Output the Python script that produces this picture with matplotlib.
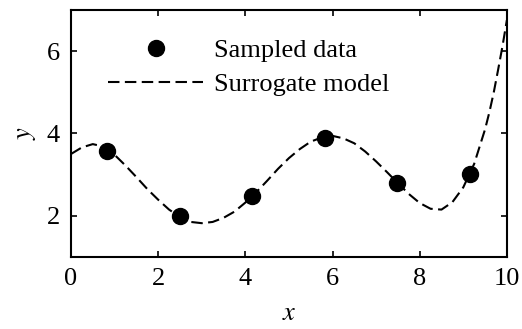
import numpy as np
import matplotlib
matplotlib.use('Agg')
import matplotlib.pyplot as plt

plt.rcParams['font.family'] = ['Liberation Serif', 'DejaVu Serif']
plt.rcParams['mathtext.fontset'] = 'stix'

# 采样点
x_sample = [0.82, 2.50, 4.16, 5.83, 7.49, 9.15]
y_sample = [3.58, 1.99, 2.49, 3.89, 2.80, 3.01]

# 代理模型曲线
x_model = [0.0, 0.25, 0.5, 0.75, 1.0, 1.25, 1.5, 1.75, 2.0, 2.25, 2.5,
           2.75, 3.0, 3.25, 3.5, 3.75, 4.0, 4.25, 4.5, 4.75, 5.0,
           5.25, 5.5, 5.75, 6.0, 6.25, 6.5, 6.75, 7.0, 7.25, 7.5,
           7.75, 8.0, 8.25, 8.5, 8.75, 9.0, 9.25, 9.5, 9.6, 9.7,
           9.8, 9.9, 10.0]
y_model = [3.50, 3.66, 3.74, 3.68, 3.48, 3.22, 2.94, 2.65, 2.39, 2.15, 1.97,
           1.85, 1.82, 1.85, 1.95, 2.10, 2.32, 2.57, 2.85, 3.14, 3.40,
           3.62, 3.80, 3.90, 3.94, 3.88, 3.76, 3.56, 3.32, 3.06, 2.79,
           2.53, 2.31, 2.17, 2.15, 2.33, 2.69, 3.26, 4.10, 4.52, 5.00,
           5.55, 6.12, 6.75]

fig = plt.figure(figsize=(5.22, 3.29), dpi=100)
ax = fig.add_axes([0.136, 0.219, 0.835, 0.751])

ax.plot(x_sample, y_sample, 'o', color='black', markersize=11.5,
        label='Sampled data', zorder=3)
ax.plot(x_model, y_model, color='black', lw=1.5, linestyle=(0, (5.5, 2.6)),
        label='Surrogate model', zorder=2)

ax.set_xlim(0, 10)
ax.set_ylim(1, 7)
ax.set_xticks([0, 2, 4, 6, 8, 10])
ax.set_yticks([2, 4, 6])
ax.tick_params(direction='in', top=True, right=True, length=4, width=1.2,
               labelsize=19, pad=8)
for s in ax.spines.values():
    s.set_linewidth(1.5)

ax.set_xlabel('$x$', fontsize=19, labelpad=9)
ax.set_ylabel('$y$', fontsize=19, labelpad=6)

ax.legend(loc='upper left', bbox_to_anchor=(0.085, 0.885), frameon=False,
          fontsize=19, handlelength=3.6, handletextpad=0.4, labelspacing=0.4,
          borderpad=0, borderaxespad=0, numpoints=1)

fig.savefig('out.png', dpi=100)
